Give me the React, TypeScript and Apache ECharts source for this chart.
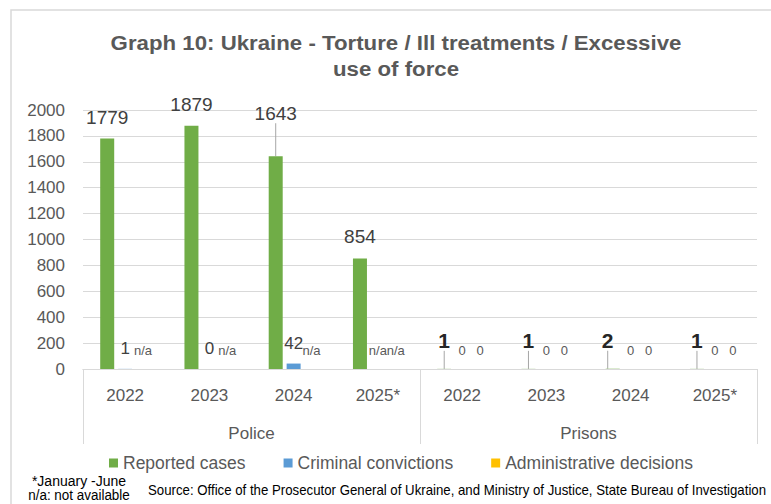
import React, { useEffect, useRef } from 'react';
import * as echarts from 'echarts';

const titleLines = ['Graph 10: Ukraine - Torture / Ill treatments / Excessive', 'use of force'];
const years = ['2022', '2023', '2024', '2025*', '2022', '2023', '2024', '2025*'];
const groups = ['Police', 'Prisons'];
const seriesNames = ['Reported cases', 'Criminal convictions', 'Administrative decisions'];
// null = n/a (not available)
const reportedCases: (number | null)[] = [1779, 1879, 1643, 854, 1, 1, 2, 1];
const criminalConvictions: (number | null)[] = [1, 0, 42, null, 0, 0, 0, 0];
const administrativeDecisions: (number | null)[] = [null, null, null, null, 0, 0, 0, 0];
const yMin = 0;
const yMax = 2000;
const yInterval = 200;
const footnotes = ['*January -June', 'n/a: not available'];
const sourceNote =
  'Source: Office of the Prosecutor General of Ukraine, and Ministry of Justice, State Bureau of Investigation';

const colors = ['#70ad47', '#5b9bd5', '#ffc000'];
const FONT = 'Liberation Sans, Arial, sans-serif';
const GRAY = '#595959';

function items(values: (number | null)[], kind: number) {
  return values.map((v, i) => {
    const police = i < 4;
    let label: any = { fontSize: 13, color: GRAY };
    let labelLine: any = { show: false };
    if (kind === 0) {
      if (police) {
        label = { fontSize: 19, color: '#404040' };
        if (i === 2) labelLine = { show: true };
      } else {
        label = { fontSize: 21, fontWeight: 'bold', color: '#262626' };
        labelLine = { show: true };
      }
    } else if (police && v != null) {
      label = { fontSize: 17, color: '#404040' };
    }
    return { value: v == null ? 0 : v, label, labelLine };
  });
}

function makeSeries(name: string, values: (number | null)[], kind: number) {
  return {
    name,
    type: 'bar',
    xAxisIndex: 0,
    barWidth: 14,
    barGap: '28%',
    itemStyle: { color: colors[kind] },
    data: items(values, kind),
    label: {
      show: true,
      position: 'top',
      distance: 12,
      fontFamily: FONT,
      formatter: (p: any) => (values[p.dataIndex] == null ? 'n/a' : String(values[p.dataIndex])),
    },
    labelLine: { show: false, lineStyle: { color: '#a6a6a6', width: 1 } },
    labelLayout:
      kind === 0
        ? (p: any) =>
            p.dataIndex === 2
              ? { dy: -21 }
              : p.dataIndex >= 4
              ? { dy: -6, dx: p.dataIndex === 6 ? -5 : 0 }
              : {}
        : undefined,
  };
}

export default function App() {
  const ref = useRef<HTMLDivElement>(null);
  useEffect(() => {
    if (!ref.current) return;
    const chart = echarts.init(ref.current, undefined, { renderer: 'svg' });
    chart.setOption({
      animation: false,
      backgroundColor: '#ffffff',
      textStyle: { fontFamily: FONT },
      grid: { left: 83, right: 14, top: 110, bottom: 135, containLabel: false },
      legend: {
        data: seriesNames,
        left: 104,
        top: 449,
        icon: 'rect',
        itemWidth: 9,
        itemHeight: 9,
        itemGap: 38,
        textStyle: { fontSize: 17.5, color: GRAY, fontFamily: FONT },
      },
      xAxis: [
        {
          type: 'category',
          data: years,
          position: 'bottom',
          axisLine: { show: true, lineStyle: { color: '#d9d9d9' } },
          axisTick: { show: false },
          axisLabel: { margin: 18, fontSize: 17, color: GRAY, fontFamily: FONT, interval: 0 },
        },
        {
          type: 'category',
          data: groups,
          position: 'bottom',
          axisLine: { show: true, lineStyle: { color: '#d9d9d9' } },
          axisTick: { show: true, length: 75, lineStyle: { color: '#d9d9d9' } },
          axisLabel: { margin: 56, fontSize: 17, color: GRAY, fontFamily: FONT },
        },
      ],
      yAxis: {
        type: 'value',
        min: yMin,
        max: yMax,
        interval: yInterval,
        axisLine: { show: false },
        axisTick: { show: false },
        axisLabel: {
          margin: 18,
          fontSize: 17,
          color: GRAY,
          fontFamily: FONT,
          formatter: (v: number) => String(v),
        },
        splitLine: { lineStyle: { color: '#d9d9d9', width: 1 } },
      },
      series: [
        makeSeries(seriesNames[0], reportedCases, 0),
        makeSeries(seriesNames[1], criminalConvictions, 1),
        makeSeries(seriesNames[2], administrativeDecisions, 2),
      ],
      graphic: [
        {
          type: 'rect',
          shape: { x: 11, y: 10, width: 800, height: 600 },
          style: { fill: 'none', stroke: '#d9d9d9', lineWidth: 1.5 },
          silent: true,
        },
        {
          type: 'text',
          x: 396,
          y: 43,
          scaleX: 1.06,
          style: {
            text: titleLines[0],
            textAlign: 'center',
            textVerticalAlign: 'middle',
            fontSize: 21,
            fontWeight: 'bold',
            fill: GRAY,
            fontFamily: FONT,
          },
        },
        {
          type: 'text',
          x: 396,
          y: 69,
          scaleX: 1.06,
          style: {
            text: titleLines[1],
            textAlign: 'center',
            textVerticalAlign: 'middle',
            fontSize: 21,
            fontWeight: 'bold',
            fill: GRAY,
            fontFamily: FONT,
          },
        },
        {
          type: 'text',
          x: 79,
          y: 481,
          scaleX: 1.0,
          style: { text: footnotes[0], textAlign: 'center', textVerticalAlign: 'middle', fontSize: 14, fill: '#000', fontFamily: FONT },
        },
        {
          type: 'text',
          x: 79,
          y: 495,
          scaleX: 0.96,
          style: { text: footnotes[1], textAlign: 'center', textVerticalAlign: 'middle', fontSize: 14, fill: '#000', fontFamily: FONT },
        },
        {
          type: 'text',
          x: 148,
          y: 490,
          scaleX: 0.946,
          style: { text: sourceNote, textAlign: 'left', textVerticalAlign: 'middle', fontSize: 14, fill: '#000', fontFamily: FONT },
        },
      ],
    });
    return () => chart.dispose();
  }, []);
  return <div ref={ref} style={{ width: 771, height: 504, position: 'absolute', left: 0, top: 0 }} />;
}
